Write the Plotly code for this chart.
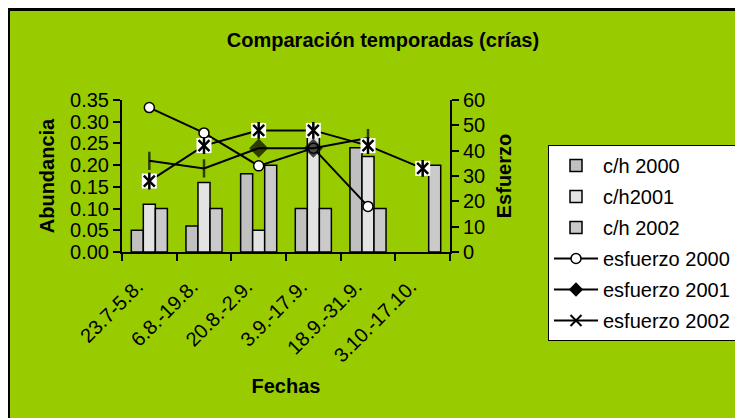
import plotly.graph_objects as go

fechas = ["23.7-5.8.", "6.8.-19.8.", "20.8.-2.9.", "3.9.-17.9.", "18.9.-31.9.", "3.10.-17.10."]
ch_2000 = [0.05, 0.06, 0.18, 0.10, 0.24, None]
ch_2001 = [0.11, 0.16, 0.05, 0.27, 0.22, None]
ch_2002 = [0.10, 0.10, 0.20, 0.10, 0.10, 0.20]
esf_2000 = [57, 47, 34, 41, 18, None]
esf_2001 = [36, 33, 41, 41, 45, None]
esf_2002 = [28, 42, 48, 48, 42, 33]
esf_2001_symbols = ["line-ns-open", "line-ns-open", "diamond", "diamond", "line-ns-open"]

FONT = "Liberation Sans, Arial, sans-serif"
GREEN = "#99CC00"
# the page body has an 8px margin, so figure coords = window coords - 8
W, H = 735, 410
L, R, T, B = 114, 442, 92, 244  # plot area in figure pixels


def px(x):
    return (x - L) / (R - L)


def py(y):
    return (B - y) / (B - T)


fig = go.Figure()

bar_colors = ["#C0C0C0", "#E3E3E3", "#CACACA"]
for name, vals, col, g in [("c/h 2000", ch_2000, bar_colors[0], "g1"),
                           ("c/h2001", ch_2001, bar_colors[1], "g2"),
                           ("c/h 2002", ch_2002, bar_colors[2], "g3")]:
    fig.add_trace(go.Bar(x=fechas, y=vals, name=name, legendgroup=g,
                         marker=dict(color=col, line=dict(color="black", width=1.5))))

# esfuerzo 2000
fig.add_trace(go.Scatter(x=fechas, y=esf_2000, name="esfuerzo 2000", yaxis="y2", legendgroup="g4",
                         mode="lines+markers", line=dict(color="black", width=2),
                         marker=dict(symbol="circle", size=10, color="white",
                                     line=dict(color="black", width=1.5))))
# esfuerzo 2001
fig.add_trace(go.Scatter(x=fechas, y=esf_2001, name="esfuerzo 2001", yaxis="y2", legendgroup="g5",
                         showlegend=False, mode="lines+markers", line=dict(color="black", width=2),
                         marker=dict(symbol=esf_2001_symbols, size=[13, 13, 12, 12, 13], color="black",
                                     line=dict(color="black", width=2.5))))
# esfuerzo 2002
fig.add_trace(go.Scatter(x=fechas, y=esf_2002, name="esfuerzo 2002", yaxis="y2", legendgroup="g6",
                         showlegend=False, mode="lines", line=dict(color="black", width=2)))
fig.add_trace(go.Scatter(x=fechas, y=esf_2002, yaxis="y2", legendgroup="g6", showlegend=False,
                         mode="markers", marker=dict(symbol="square", size=15, color="white",
                                                     line=dict(width=0, color="white")),
                         hoverinfo="skip"))
fig.add_trace(go.Scatter(x=fechas, y=esf_2002, yaxis="y2", legendgroup="g6", showlegend=False,
                         mode="markers", marker=dict(symbol="x-thin-open", size=11, color="black",
                                                     line=dict(color="black", width=2.5)),
                         hoverinfo="skip"))
fig.add_trace(go.Scatter(x=fechas, y=esf_2002, yaxis="y2", legendgroup="g6", showlegend=False,
                         mode="markers", marker=dict(symbol="line-ns-open", size=12, color="black",
                                                     line=dict(color="black", width=2.5)),
                         hoverinfo="skip"))
# legend entries
fig.add_trace(go.Scatter(x=[None], y=[None], name="esfuerzo 2001", yaxis="y2", legendgroup="g5",
                         mode="lines+markers", line=dict(color="black", width=2),
                         marker=dict(symbol="diamond", size=11, color="black")))
fig.add_trace(go.Scatter(x=[None], y=[None], name="esfuerzo 2002", yaxis="y2", legendgroup="g6",
                         mode="lines+markers", line=dict(color="black", width=2),
                         marker=dict(symbol="x-thin-open", size=11, color="black",
                                     line=dict(color="black", width=2))))

tickfont = dict(family=FONT, size=20, color="black")
titlefont = dict(family=FONT, size=20, color="black", weight="bold")
axcommon = dict(showgrid=False, zeroline=False, automargin=False, tickcolor="black",
                tickwidth=2, ticklen=7)

fig.update_layout(
    template="none",
    width=W, height=H,
    margin=dict(l=L, r=W - R, t=T, b=H - B, pad=0, autoexpand=False),
    paper_bgcolor=GREEN,
    plot_bgcolor="rgba(0,0,0,0)",
    font=dict(family=FONT, size=20, color="black"),
    barmode="group", bargap=0.34, bargroupgap=0,
    title=dict(text="Comparación temporadas (crías)", x=375 / W, xanchor="center",
               y=1 - 32 / H, yanchor="middle",
               font=dict(family=FONT, size=20, color="black", weight="bold")),
    xaxis=dict(type="category", categoryorder="array", categoryarray=fechas,
               range=[-0.5, 5.5], tickson="boundaries", ticks="outside",
               showline=True, linecolor="black", linewidth=2,
               tickangle=-45, tickfont=tickfont, ticklabelstandoff=13, ticklabelshift=-12,
               title=dict(text="Fechas", font=titlefont, standoff=14), **axcommon),
    xaxis2=dict(overlaying="x", anchor="y", side="bottom", type="linear", range=[-0.5, 5.5],
                tickvals=[-0.5, 0.5, 1.5, 2.5, 3.5, 4.5, 5.5], ticks="inside",
                showticklabels=False, showline=False, **axcommon),
    yaxis=dict(range=[0, 0.35], dtick=0.05, tick0=0, tickformat=".2f", ticks="outside",
               showline=True, linecolor="black", linewidth=2, tickfont=tickfont,
               title=dict(text="Abundancia", font=titlefont, standoff=10), **axcommon),
    yaxis2=dict(overlaying="y", side="right", anchor="x", range=[0, 60], dtick=10, tick0=0,
                ticks="outside", showline=True, linecolor="black", linewidth=2, tickfont=tickfont,
                title=dict(text="Esfuerzo", font=titlefont, standoff=13), **axcommon),
    yaxis3=dict(overlaying="y", side="left", anchor="x", range=[0, 0.35], dtick=0.05, tick0=0,
                ticks="inside", showticklabels=False, showline=False, **axcommon),
    yaxis4=dict(overlaying="y", side="right", anchor="x", range=[0, 60], dtick=10, tick0=0,
                ticks="inside", showticklabels=False, showline=False, **axcommon),
    legend=dict(x=px(540), y=py(137), xanchor="left", yanchor="top",
                bgcolor="white", bordercolor="black", borderwidth=1,
                font=dict(family=FONT, size=20, color="black"),
                traceorder="grouped", tracegroupgap=2, itemwidth=44, maxheight=260),
    shapes=[dict(type="line", xref="paper", yref="paper", x0=px(0.5), x1=px(0.5),
                 y0=py(0), y1=py(H + 20), line=dict(color="black", width=3)),
            dict(type="line", xref="paper", yref="paper", x0=px(0), x1=px(W + 20),
                 y0=py(1.5), y1=py(1.5), line=dict(color="black", width=3))],
)

fig.write_html("out.html")
